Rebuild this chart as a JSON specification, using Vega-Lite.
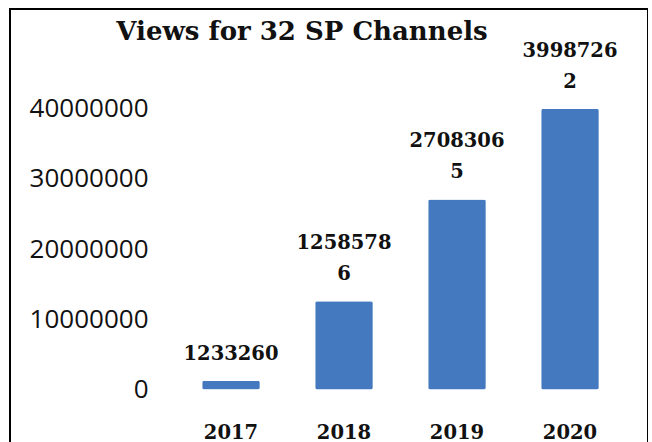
{
  "$schema": "https://vega.github.io/schema/vega-lite/v6.json",
  "autosize": "none",
  "padding": {"left": 10, "top": 9, "right": 0, "bottom": 0},
  "width": 638,
  "height": 440,
  "background": "white",
  "config": {
    "view": {"stroke": "#000000", "strokeWidth": 2},
    "axis": {"grid": false, "domain": false, "ticks": false, "tickSize": 0}
  },
  "title": {
    "text": "Views for 32 SP Channels",
    "font": "DejaVu Serif",
    "fontWeight": "bold",
    "fontSize": 26,
    "color": "#111111",
    "anchor": "middle",
    "frame": "group",
    "baseline": "alphabetic",
    "offset": -27,
    "dx": -27,
    "dy": 30
  },
  "data": {
    "values": [
      {"year": "2017", "views": 1233260, "labelUpper": "", "labelLower": "1233260"},
      {"year": "2018", "views": 12585786, "labelUpper": "1258578", "labelLower": "6"},
      {"year": "2019", "views": 27083065, "labelUpper": "2708306", "labelLower": "5"},
      {"year": "2020", "views": 39987262, "labelUpper": "3998726", "labelLower": "2"}
    ]
  },
  "encoding": {
    "x": {
      "field": "year",
      "type": "nominal",
      "scale": {"range": [164.5, 616.5], "paddingInner": 0.49, "paddingOuter": 0.245},
      "axis": {
        "title": null,
        "labelAngle": 0,
        "offset": -26,
        "labelPadding": 0,
        "labelBaseline": "top",
        "labelFont": "DejaVu Serif",
        "labelFontWeight": "bold",
        "labelFontSize": 19.5,
        "labelColor": "#111111"
      }
    },
    "y": {
      "field": "views",
      "type": "quantitative",
      "scale": {"domain": [0, 40000000], "range": [380.5, 99.8], "nice": false},
      "axis": {
        "title": null,
        "values": [0, 10000000, 20000000, 30000000, 40000000],
        "format": "d",
        "offset": -138,
        "labelPadding": 0,
        "labelFont": "Open Sans",
        "labelFontSize": 26,
        "labelColor": "#111111"
      }
    }
  },
  "layer": [
    {"mark": {"type": "bar", "color": "#4479c0", "cornerRadius": 2}},
    {
      "mark": {
        "type": "text",
        "baseline": "bottom",
        "dy": -17,
        "font": "DejaVu Serif",
        "fontWeight": "bold",
        "fontSize": 19.5,
        "color": "#111111"
      },
      "encoding": {"text": {"field": "labelLower"}}
    },
    {
      "mark": {
        "type": "text",
        "baseline": "bottom",
        "dy": -48,
        "font": "DejaVu Serif",
        "fontWeight": "bold",
        "fontSize": 19.5,
        "color": "#111111"
      },
      "encoding": {"text": {"field": "labelUpper"}}
    }
  ]
}
